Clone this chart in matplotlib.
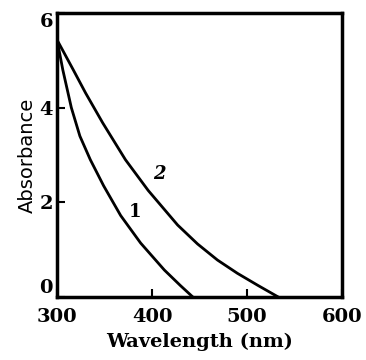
import numpy as np
import matplotlib
matplotlib.use('Agg')
import matplotlib.pyplot as plt

# values
wl_1 = [300, 306, 315, 324, 335, 349, 367, 388, 413, 430, 443]
abs_1 = [5.43, 4.8, 4.0, 3.4, 2.9, 2.35, 1.72, 1.14, 0.57, 0.24, 0.0]
wl_2 = [300, 317, 330, 348, 372, 396, 427, 448, 469, 490, 512, 533]
abs_2 = [5.43, 4.8, 4.31, 3.68, 2.9, 2.25, 1.52, 1.12, 0.78, 0.5, 0.24, 0.0]
curve_labels = ['1', '2']
label_pos = [(382, 1.8), (408, 2.6)]

fig = plt.figure(figsize=(3.66, 3.60), dpi=100)
ax = fig.add_axes([0.156, 0.175, 0.778, 0.789])

ax.plot(wl_1, abs_1, color='black', lw=2, solid_joinstyle='round')
ax.plot(wl_2, abs_2, color='black', lw=2, solid_joinstyle='round')
for txt, (x, y) in zip(curve_labels, label_pos):
    ax.text(x, y, txt, fontsize=13, fontweight='bold', family='DejaVu Serif',
            style='italic' if txt == '2' else 'normal', ha='center', va='center')

ax.set_xlim(300, 600)
ax.set_ylim(0, 6)
ax.set_xticks([300, 400, 500, 600])
ax.set_yticks([0, 2, 4, 6])
ax.tick_params(direction='in', length=6, width=1.5)
ax.tick_params(axis='x', pad=8)
ax.tick_params(axis='y', pad=3)
for lab in ax.get_xticklabels() + ax.get_yticklabels():
    lab.set_family('DejaVu Serif')
    lab.set_fontsize(14)
    lab.set_fontweight('bold')
ylabs = ax.get_yticklabels()
ylabs[0].set_va('bottom')
ylabs[-1].set_va('top')
for sp in ax.spines.values():
    sp.set_linewidth(2.5)

ax.set_xlabel('Wavelength (nm)', family='DejaVu Serif', fontweight='bold', fontsize=14, labelpad=5)
ax.set_ylabel('Absorbance', family='DejaVu Sans', fontsize=14, labelpad=2)

fig.savefig('out.png', dpi=100)
